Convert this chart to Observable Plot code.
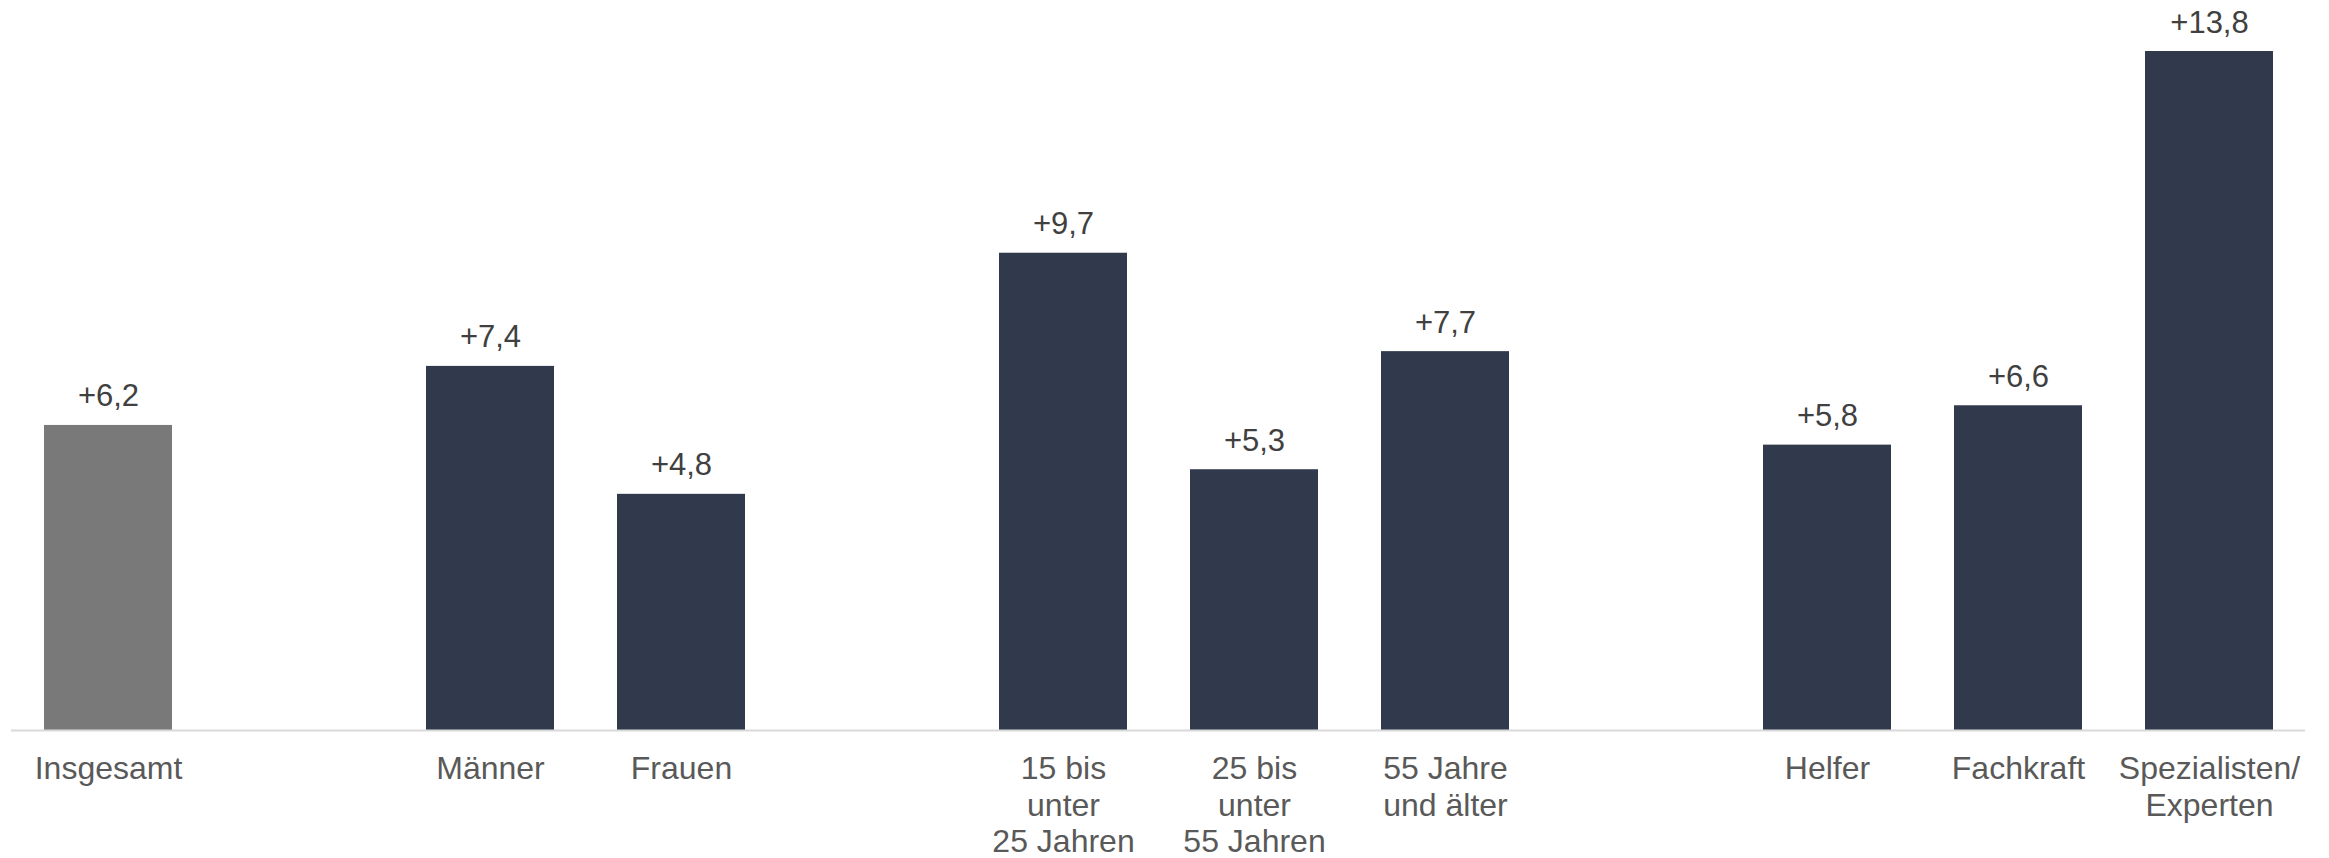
<!DOCTYPE html>
<html>
<head>
<meta charset="utf-8">
<script src="https://cdn.jsdelivr.net/npm/d3@7"></script>
<script src="https://cdn.jsdelivr.net/npm/@observablehq/plot@0.6"></script>
<style>
  html, body { margin: 0; padding: 0; background: #ffffff; }
  #chart svg { display: block; }
</style>
</head>
<body>
<div id="chart"></div>
<script>
// Data
const categories = [
  "Insgesamt",
  "Männer", "Frauen",
  "15 bis\nunter\n25 Jahren", "25 bis\nunter\n55 Jahren", "55 Jahre\nund älter",
  "Helfer", "Fachkraft", "Spezialisten/\nExperten"
];
const groups = [
  "Insgesamt",
  "Geschlecht", "Geschlecht",
  "Alter", "Alter", "Alter",
  "Anforderungsniveau", "Anforderungsniveau", "Anforderungsniveau"
];
const values = [6.2, 7.4, 4.8, 9.7, 5.3, 7.7, 5.8, 6.6, 13.8];

const colorTotal = "#797979";
const colorBar = "#31394d";

const rows = categories.map((c, i) => ({category: c, group: groups[i], value: values[i]}));

// x domain with empty slots between groups
const domain = [];
rows.forEach((r, i) => {
  if (i > 0 && r.group !== rows[i - 1].group) domain.push("__gap" + i);
  domain.push(r.category);
});

const fmt = v => "+" + v.toFixed(1).replace(".", ",");

const chart = Plot.plot({
  width: 2329,
  height: 858,
  marginLeft: 11,
  marginRight: 24,
  marginTop: 51,
  marginBottom: 128,
  style: {fontFamily: "'Liberation Sans', Arial, sans-serif", background: "#ffffff"},
  x: {domain, paddingInner: 0.33, paddingOuter: 0.165, align: 0.5, label: null},
  y: {domain: [0, 13.8], axis: null},
  marks: [
    Plot.barY(rows, {
      x: "category",
      y: "value",
      fill: d => d.group === "Insgesamt" ? colorTotal : colorBar
    }),
    Plot.ruleY([0], {stroke: "#d9d9d9", strokeWidth: 2}),
    Plot.text(rows, {
      x: "category",
      y: "value",
      text: d => fmt(d.value),
      lineAnchor: "bottom",
      dy: -19,
      fontSize: 31,
      fill: "#404040"
    }),
    Plot.axisX({
      label: null,
      tickSize: 0,
      tickPadding: 23,
      fontSize: 32,
      lineHeight: 1.14,
      fill: "#595959",
      tickFormat: d => d.startsWith("__gap") ? "" : d
    })
  ]
});

document.getElementById("chart").appendChild(chart);
</script>
</body>
</html>
